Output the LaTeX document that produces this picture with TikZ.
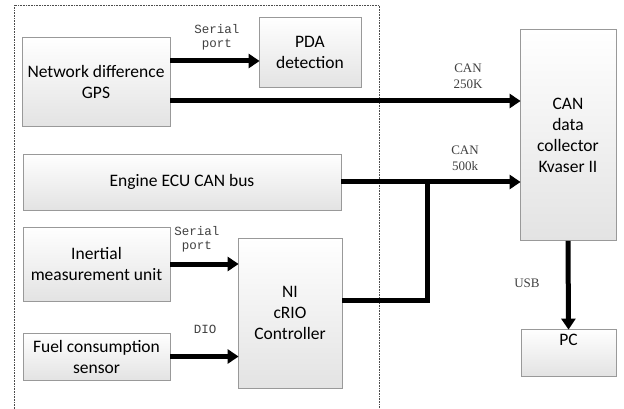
\documentclass[tikz,border=0pt]{standalone}
\usepackage{fontspec}
\setmainfont{Carlito}
\newfontfamily\lblmono{Liberation Mono}
\newfontfamily\lblserif{Liberation Serif}
\usetikzlibrary{arrows.meta}
\begin{document}
\begin{tikzpicture}[x=1pt,y=-1pt,
  box/.style={draw=gray!80, line width=0.8pt, top color=white, bottom color=gray!22, align=center,
    inner sep=0pt, font=\fontsize{17.5}{21}\selectfont},
  arr/.style={line width=5pt, -{Triangle[length=11pt,width=14pt]}, shorten >=-1pt},
  wire/.style={line width=5pt},
  mlbl/.style={font=\lblmono\fontsize{12.5}{14}\selectfont, text=black!75, align=center, inner sep=0pt},
  slbl/.style={font=\lblserif\fontsize{13}{16}\selectfont, text=black!75, align=center, inner sep=0pt},
  frame/.style={draw=black!70, line width=0.6pt, densely dotted}]
\useasboundingbox (0,0) rectangle (624,409);
\fill[white] (0,0) rectangle (624,409);
% dotted frame
\draw[frame] (14,409) -- (14,5) -- (379,5) -- (379,409);
% boxes
\node[box, minimum width=148pt, minimum height=89pt] (gps) at (96,82) {Network difference\\GPS};
\node[box, minimum width=102pt, minimum height=70pt] (pda) at (310,52) {PDA\\detection};
\node[box, minimum width=318pt, minimum height=56pt] (ecu) at (182,182) {Engine ECU CAN bus};
\node[box, minimum width=147pt, minimum height=74pt] (imu) at (96.5,264) {Inertial\\measurement unit};
\node[box, minimum width=104pt, minimum height=150pt] (ni) at (290,313) {NI\\cRIO\\Controller};
\node[box, minimum width=147pt, minimum height=47pt] (fuel) at (96.5,356.5) {Fuel consumption\\sensor};
\node[box, minimum width=96pt, minimum height=211pt] (can) at (568,135) {CAN\\data\\collector\\Kvaser II};
\node[box, minimum width=95pt, minimum height=47pt,
  label={[font=\fontsize{17.5}{21}\selectfont, anchor=north, yshift=-2pt]north:PC}] (pc) at (568.5,352.5) {};
% connectors
\draw[arr] ([yshift=21pt]gps.east) -- ([yshift=21pt]gps.east -| pda.west);
\draw[arr] ([yshift=-19pt]gps.east) -- ([yshift=-19pt]gps.east -| can.west);
\draw[arr] (ecu.east) -- (ecu.east -| can.west);
\coordinate (j) at (427,182);
\draw[wire] ([yshift=13pt]ni.east) -| (j);
\draw[arr] (imu.east) -- (imu.east -| ni.west);
\draw[arr] (fuel.east) -- (fuel.east -| ni.west);
\draw[arr] (can.south) -- (pc.north);
% labels
\node[mlbl] (l1) at (217,37) {Serial\\port};
\node[slbl] (l2) at (468,76) {CAN\\250K};
\node[slbl] (l3) at (465,158) {CAN\\500k};
\node[mlbl] (l4) at (197,239) {Serial\\port};
\node[mlbl] (l5) at (205,329) {DIO};
\node[slbl] (l6) at (527,283) {USB};
\end{tikzpicture}
\end{document}
